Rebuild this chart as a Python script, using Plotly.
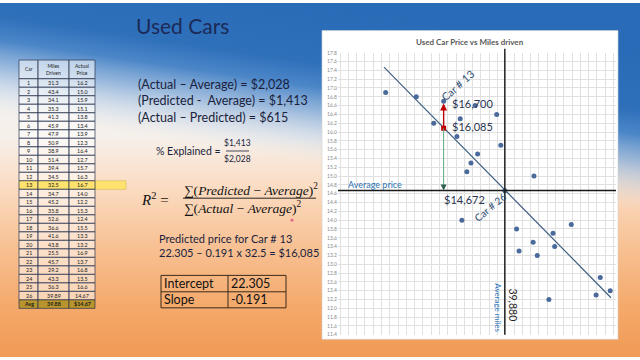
import base64
import plotly.graph_objects as go

# ---------------- data ----------------
cars = list(range(1, 27))
miles = [31.3, 43.4, 34.1, 35.3, 41.3, 45.9, 47.9, 50.9, 38.9, 51.4, 39.4, 34.5, 32.5,
         34.7, 45.2, 35.8, 52.6, 36.6, 41.6, 43.8, 25.5, 45.7, 29.2, 43.3, 36.3, 39.89]
price = [16.2, 15.0, 15.9, 15.1, 13.8, 13.4, 13.9, 12.3, 16.4, 12.7, 15.7, 16.3, 16.7,
         14.0, 12.2, 15.3, 12.4, 15.5, 13.3, 13.2, 16.9, 13.7, 16.8, 13.5, 16.6, 14.67]
avg_row = ["Avg", "39.88", "$14.67"]
header = ["Car", "Miles<br>Driven", "Actual<br>Price"]

avg_miles = 39.880
avg_price = 14.672
intercept = 22.305
slope = -0.191
car13_miles = 32.5
car13_actual = 16.7
car13_pred = 16.085
highlight_car = 13

y_range = [11.4, 17.8]
x_range = [19.75, 53.3]

W, H = 640, 360
def px(x):
    return x / W
def py(y):
    return 1 - y / H

TXT = "#1a1f3d"
FONT = "Lato"

# ---------------- background ----------------
svg = f'''<svg xmlns="http://www.w3.org/2000/svg" width="{W}" height="{H}" viewBox="0 0 {W} {H}" preserveAspectRatio="none">
<defs>
<linearGradient id="o" gradientUnits="userSpaceOnUse" x1="0" y1="0" x2="0" y2="{H}">
<stop offset="0" stop-color="#eef2f6"/>
<stop offset="0.38" stop-color="#f6f0ea"/>
<stop offset="0.52" stop-color="#fbdcc2"/>
<stop offset="0.68" stop-color="#f8c296"/>
<stop offset="0.85" stop-color="#f4aa6c"/>
<stop offset="1" stop-color="#f19a55"/>
</linearGradient>
<linearGradient id="b" gradientUnits="userSpaceOnUse" x1="320" y1="0" x2="290" y2="200">
<stop offset="0" stop-color="#2a6bb7" stop-opacity="1"/>
<stop offset="0.3" stop-color="#2f70bb" stop-opacity="1"/>
<stop offset="0.42" stop-color="#4280c5" stop-opacity="0.95"/>
<stop offset="0.55" stop-color="#74a1d5" stop-opacity="0.7"/>
<stop offset="0.68" stop-color="#abc7e7" stop-opacity="0.35"/>
<stop offset="0.8" stop-color="#dfe9f4" stop-opacity="0"/>
</linearGradient>
</defs>
<rect width="{W}" height="{H}" fill="url(#o)"/>
<rect width="{W}" height="{H}" fill="url(#b)"/>
</svg>'''
bg_src = "data:image/svg+xml;base64," + base64.b64encode(svg.encode()).decode()

shapes = []
annotations = []

# chart panel
shapes.append(dict(type="rect", xref="paper", yref="paper", x0=px(322), x1=px(618),
                   y0=py(342), y1=py(28), fillcolor="white",
                   line=dict(color="#d0d0d0", width=0.6), layer="below"))

# ---------------- data table ----------------
col_edges = [19, 38, 69, 95]
head_top, head_bot = 58, 77
rh = 8.65
border = dict(color="#2a3550", width=0.7)

def cell(x0, x1, y0, y1, fill):
    shapes.append(dict(type="rect", xref="paper", yref="paper", x0=px(x0), x1=px(x1),
                       y0=py(y1), y1=py(y0), fillcolor=fill, line=border))

def ctext(t, x, y, size=5.4, bold=False, color="#222222"):
    annotations.append(dict(text=("<b>%s</b>" % t) if bold else t, x=px(x), y=py(y),
                            xref="paper", yref="paper", showarrow=False,
                            font=dict(size=size, color=color, family=FONT),
                            xanchor="center", yanchor="middle"))

for c in range(3):
    cell(col_edges[c], col_edges[c + 1], head_top, head_bot, "rgba(255,255,255,0.55)")
    ctext(header[c], (col_edges[c] + col_edges[c + 1]) / 2, (head_top + head_bot) / 2, size=5)

rows = [[str(cars[i]), f"{miles[i]:.1f}" if i < 25 else f"{miles[i]:.2f}",
         f"{price[i]:.1f}" if i < 25 else f"{price[i]:.2f}"] for i in range(26)]

for i, r in enumerate(rows):
    top = head_bot + i * rh
    hl = cars[i] == highlight_car
    fill = "#ffe36e" if hl else "rgba(255,255,255,0.5)"
    if hl:
        shapes.append(dict(type="rect", xref="paper", yref="paper", x0=px(95), x1=px(126),
                           y0=py(top + rh), y1=py(top), fillcolor="#ffe36e",
                           line=dict(color="#c9b040", width=0.5)))
    for c in range(3):
        cell(col_edges[c], col_edges[c + 1], top, top + rh, fill)
        ctext(r[c], (col_edges[c] + col_edges[c + 1]) / 2, top + rh / 2 + 0.3)

top = head_bot + 26 * rh
for c in range(3):
    cell(col_edges[c], col_edges[c + 1], top, top + rh, "#b8942c")
    ctext(avg_row[c], (col_edges[c] + col_edges[c + 1]) / 2, top + rh / 2 + 0.3, bold=True,
          color="#1a1a1a")

# ---------------- slide text ----------------
def txt(t, x, y, size, anchor="left", color=TXT, family=FONT, angle=0):
    annotations.append(dict(text=t, x=px(x), y=py(y), xref="paper", yref="paper",
                            showarrow=False, xanchor=anchor, yanchor="middle",
                            textangle=angle,
                            font=dict(size=size, color=color, family=family)))

txt("Used Cars", 182, 23, 21, anchor="center", color="#1b2a57")
txt("(Actual – Average) = $2,028", 136, 82.5, 12.5)
txt("(Predicted -  Average) = $1,413", 136, 99.3, 12.5)
txt("(Actual – Predicted) = $615", 136, 116, 12.5)

txt("% Explained =", 223, 150.5, 10.5, anchor="right")
txt("$1,413", 237.5, 142.5, 8.5, anchor="center")
txt("$2,028", 237.5, 158.5, 8.5, anchor="center")
shapes.append(dict(type="line", xref="paper", yref="paper", x0=px(226), x1=px(249),
                   y0=py(150.5), y1=py(150.5), line=dict(color=TXT, width=0.8)))

SERIF = "Liberation Serif"
txt("<i>R</i><sup>2</sup> =", 139, 199, 15, family=SERIF, color="#111111")
txt("∑(<i>Predicted</i> − <i>Average</i>)<sup>2</sup>", 182, 189.5, 13.5, family=SERIF, color="#111111")
txt("∑(<i>Actual</i> − <i>Average</i>)<sup>2</sup>", 182, 207.5, 13.5, family=SERIF, color="#111111")
shapes.append(dict(type="line", xref="paper", yref="paper", x0=px(183), x1=px(316),
                   y0=py(198.5), y1=py(198.5), line=dict(color="#111111", width=0.9)))
shapes.append(dict(type="circle", xref="paper", yref="paper", x0=px(290.5), x1=px(293.5),
                   y0=py(222.5), y1=py(219.5), fillcolor="#e36b86", line=dict(width=0)))

txt("Predicted price for Car # 13", 157, 239.5, 11)
txt("22.305 – 0.191 x 32.5 = $16,085", 157, 254, 11)

# small coefficient table
coef_border = dict(color="#3b2a1a", width=1)
shapes.append(dict(type="rect", xref="paper", yref="paper", x0=px(161), x1=px(286),
                   y0=py(310), y1=py(277), line=coef_border))
shapes.append(dict(type="line", xref="paper", yref="paper", x0=px(228), x1=px(228),
                   y0=py(310), y1=py(277), line=coef_border))
shapes.append(dict(type="line", xref="paper", yref="paper", x0=px(161), x1=px(286),
                   y0=py(293.7), y1=py(293.7), line=coef_border))
txt("Intercept", 162, 285.5, 12.5, color="#111111")
txt(f"{intercept:.3f}", 229, 285.5, 12.5, color="#111111")
txt("Slope", 162, 302, 12.5, color="#111111")
txt(f"{slope:.3f}", 228.5, 302, 12.5, color="#111111")

# ---------------- chart ----------------
fig = go.Figure()

lx = [min(miles) - 0.2, max(miles) + 0.1]
ly = [intercept + slope * v for v in lx]
fig.add_trace(go.Scatter(x=lx, y=ly, mode="lines", line=dict(color="#3f5f80", width=1.2),
                         hoverinfo="skip", showlegend=False))
fig.add_trace(go.Scatter(x=miles, y=price, mode="markers",
                         marker=dict(color="#4a6a9c", size=5), showlegend=False))

# average lines
shapes.append(dict(type="line", xref="x domain", yref="y", x0=0, x1=1,
                   y0=avg_price, y1=avg_price, line=dict(color="#1a1a1a", width=1.4)))
shapes.append(dict(type="line", xref="x", yref="y domain", x0=avg_miles, x1=avg_miles,
                   y0=0, y1=1.014, line=dict(color="#1a1a1a", width=1.4)))

# arrows for car 13
annotations.append(dict(x=car13_miles, y=car13_pred, ax=car13_miles, ay=avg_price,
                        xref="x", yref="y", axref="x", ayref="y", text="",
                        showarrow=True, arrowhead=0, arrowwidth=1, arrowcolor="#5aaa80"))
annotations.append(dict(x=car13_miles, y=avg_price, ax=car13_miles, ay=avg_price + 0.12,
                        xref="x", yref="y", axref="x", ayref="y", text="",
                        showarrow=True, arrowhead=2, arrowsize=1.2, arrowwidth=1,
                        arrowcolor="#2f5f4f"))
annotations.append(dict(x=car13_miles, y=car13_actual - 0.05, ax=car13_miles, ay=car13_pred,
                        xref="x", yref="y", axref="x", ayref="y", text="",
                        showarrow=True, arrowhead=2, arrowsize=1, arrowwidth=1.4,
                        arrowcolor="#c00000"))
fig.add_trace(go.Scatter(x=[car13_miles], y=[car13_pred], mode="markers",
                         marker=dict(color="#c00000", size=5, symbol="square"),
                         showlegend=False))

txt("<b>Used Car Price vs Miles driven</b>", 470, 39.5, 8, anchor="center", color="#595959")
txt("Average price", 346, 184.5, 9, color="#2e75b6")
txt("$14,672", 442, 200, 11, color="#2a3550")
txt("$16,700", 449.5, 102, 11, color="#2a3550")
txt("$16,085", 449.5, 126, 11, color="#2a3550")
txt("Car # 13", 457, 84, 10.5, anchor="center", color="#2a4a70", angle=-42)
txt("Car # 26", 490, 207, 10, anchor="center", color="#2a4a70", angle=-40)
txt("Average miles", 498.5, 310, 8, anchor="center", color="#2e75b6", angle=90)
txt("39,880", 513.5, 307, 10.5, anchor="center", color="#1f1f1f", angle=90)

fig.update_layout(
    width=W, height=H, margin=dict(l=0, r=0, t=0, b=0),
    paper_bgcolor="white", plot_bgcolor="rgba(0,0,0,0)",
    xaxis=dict(domain=[px(338), px(616)], range=x_range, dtick=1, showticklabels=False,
               showgrid=True, gridcolor="#e0e0e0", gridwidth=0.7, zeroline=False,
               ticks="", showline=False),
    yaxis=dict(domain=[py(337.3), py(50.6)], range=y_range, dtick=0.2, tickformat=".1f",
               showgrid=True, gridcolor="#e0e0e0", gridwidth=0.7, zeroline=False,
               ticks="", showline=False, tickfont=dict(size=5, color="#8a8a8a", family=FONT)),
    shapes=shapes, annotations=annotations,
    images=[dict(source=bg_src, xref="paper", yref="paper", x=0, y=1, sizex=1, sizey=1,
                 xanchor="left", yanchor="top", sizing="stretch", layer="below")],
    showlegend=False,
)

fig.write_html("out.html")
